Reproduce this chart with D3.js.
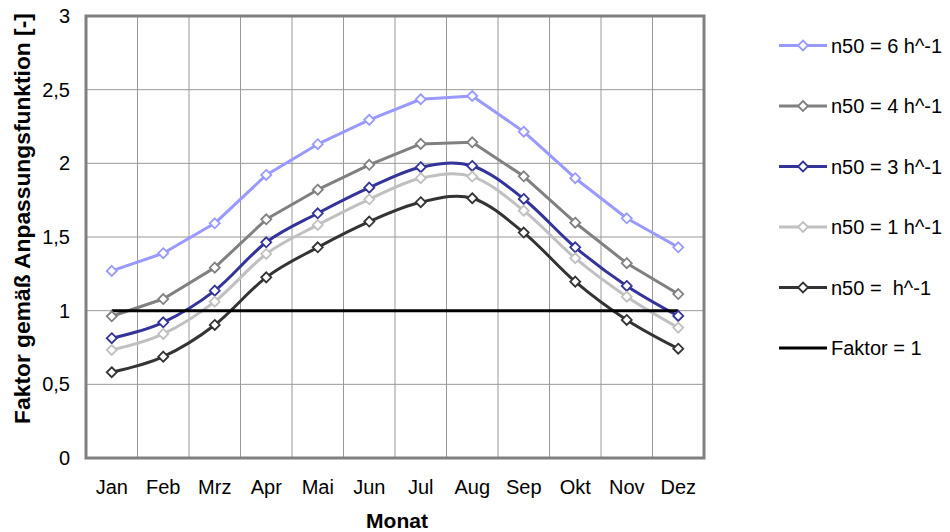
<!DOCTYPE html>
<html>
<head>
<meta charset="utf-8">
<script src="https://cdn.jsdelivr.net/npm/d3@7/dist/d3.min.js"></script>
<style>
  html, body { margin: 0; padding: 0; background: #fff; }
  svg { display: block; font-family: "Liberation Sans", Arial, sans-serif; }
</style>
</head>
<body>
<svg id="chart" width="950" height="532"></svg>
<script>
// Monthly adjustment factors per airtightness level (n50)
const months = ["Jan", "Feb", "Mrz", "Apr", "Mai", "Jun", "Jul", "Aug", "Sep", "Okt", "Nov", "Dez"];
const n50_6 = [1.27, 1.39, 1.593, 1.921, 2.13, 2.295, 2.435, 2.457, 2.215, 1.899, 1.627, 1.43];
const n50_4 = [0.962, 1.079, 1.292, 1.62, 1.821, 1.99, 2.132, 2.143, 1.912, 1.597, 1.322, 1.113];
const n50_3 = [0.813, 0.921, 1.136, 1.464, 1.661, 1.835, 1.974, 1.982, 1.758, 1.43, 1.168, 0.964];
const n50_1 = [0.733, 0.842, 1.061, 1.385, 1.582, 1.756, 1.899, 1.91, 1.679, 1.356, 1.095, 0.885];
const n50_0 = [0.582, 0.688, 0.903, 1.226, 1.43, 1.605, 1.736, 1.763, 1.53, 1.197, 0.937, 0.742];
const faktor = [1, 1, 1, 1, 1, 1, 1, 1, 1, 1, 1, 1];
const yTicks = [0, 0.5, 1, 1.5, 2, 2.5, 3];

const seriesNames = ["n50 = 6 h^-1", "n50 = 4 h^-1", "n50 = 3 h^-1", "n50 = 1 h^-1", "n50 =  h^-1", "Faktor = 1"];
const seriesValues = [n50_6, n50_4, n50_3, n50_1, n50_0, faktor];
const seriesColors = ["#9999FF", "#808080", "#333399", "#C0C0C0", "#333333", "#000000"];
const seriesSmooth = [false, false, true, true, true, false];
const seriesMarkers = [true, true, true, true, true, false];

const svg = d3.select("#chart");
const plot = { left: 86, right: 704, top: 16, bottom: 458 };

const x = d3.scaleBand().domain(months).range([plot.left, plot.right]);
const y = d3.scaleLinear().domain([0, 3]).range([plot.bottom, plot.top]);
const cx = m => x(m) + x.bandwidth() / 2;

// gridlines
const grid = svg.append("g");
grid.selectAll("line.h").data(yTicks).join("line")
  .attr("x1", plot.left).attr("x2", plot.right)
  .attr("y1", d => y(d)).attr("y2", d => y(d))
  .attr("stroke", "#999").attr("stroke-width", 1);
grid.selectAll("line.v").data(months.slice(1)).join("line")
  .attr("x1", d => x(d)).attr("x2", d => x(d))
  .attr("y1", plot.top).attr("y2", plot.bottom)
  .attr("stroke", "#999").attr("stroke-width", 1);

// plot frame
svg.append("rect")
  .attr("x", plot.left).attr("y", plot.top)
  .attr("width", plot.right - plot.left).attr("height", plot.bottom - plot.top)
  .attr("fill", "none").attr("stroke", "#808080").attr("stroke-width", 3);

// axes
const yAxis = d3.axisLeft(y).tickValues(yTicks).tickSize(0).tickPadding(0)
  .tickFormat(d => String(d).replace(".", ","));
const gy = svg.append("g").attr("transform", `translate(70,0)`).call(yAxis);
gy.select(".domain").remove();
gy.selectAll("text").attr("font-size", 20).attr("fill", "#000").attr("font-family", "Liberation Sans, Arial, sans-serif");

const xAxis = d3.axisBottom(x).tickSize(0).tickPadding(0);
const gx = svg.append("g").attr("transform", `translate(0,${plot.bottom})`).call(xAxis);
gx.select(".domain").remove();
gx.selectAll("text").attr("font-size", 20).attr("fill", "#000")
  .attr("dy", null).attr("y", 36).attr("font-family", "Liberation Sans, Arial, sans-serif");

// axis titles
svg.append("text")
  .attr("x", 397).attr("y", 528)
  .attr("text-anchor", "middle").attr("font-weight", "bold").attr("font-size", 21)
  .text("Monat");
svg.append("text")
  .attr("transform", "translate(30,218.5) rotate(-90)")
  .attr("text-anchor", "middle").attr("font-weight", "bold").attr("font-size", 22.8)
  .text("Faktor gemäß Anpassungsfunktion [-]");

// series lines and markers
const diamond = s => `M0,${-s}L${s},0L0,${s}L${-s},0Z`;
seriesValues.forEach((vals, i) => {
  const line = d3.line()
    .x((d, j) => cx(months[j]))
    .y(d => y(d))
    .curve(seriesSmooth[i] ? d3.curveCardinal.tension(0) : d3.curveLinear);
  svg.append("path").datum(vals)
    .attr("d", line)
    .attr("fill", "none")
    .attr("stroke", seriesColors[i])
    .attr("stroke-width", 3)
    .attr("stroke-linejoin", "round");
});
seriesValues.forEach((vals, i) => {
  if (!seriesMarkers[i]) return;
  svg.append("g").selectAll("path").data(vals).join("path")
    .attr("transform", (d, j) => `translate(${cx(months[j])},${y(d)})`)
    .attr("d", diamond(5))
    .attr("fill", "#fff")
    .attr("stroke", seriesColors[i])
    .attr("stroke-width", 1.8);
});

// legend
const legend = svg.append("g");
seriesNames.forEach((name, i) => {
  const ly = 45.5 + i * 60.5;
  const g = legend.append("g").attr("transform", `translate(0,${ly})`);
  g.append("line").attr("x1", 779).attr("x2", 827).attr("y1", 0).attr("y2", 0)
    .attr("stroke", seriesColors[i]).attr("stroke-width", 3);
  if (seriesMarkers[i]) {
    g.append("path").attr("transform", "translate(803,0)").attr("d", diamond(5))
      .attr("fill", "#fff").attr("stroke", seriesColors[i]).attr("stroke-width", 1.8);
  }
  g.append("text").attr("x", 831).attr("y", 0).attr("dy", "0.35em")
    .attr("font-size", 20).attr("fill", "#000")
    .attr("xml:space", "preserve").style("white-space", "pre")
    .text(name);
});
</script>
</body>
</html>
